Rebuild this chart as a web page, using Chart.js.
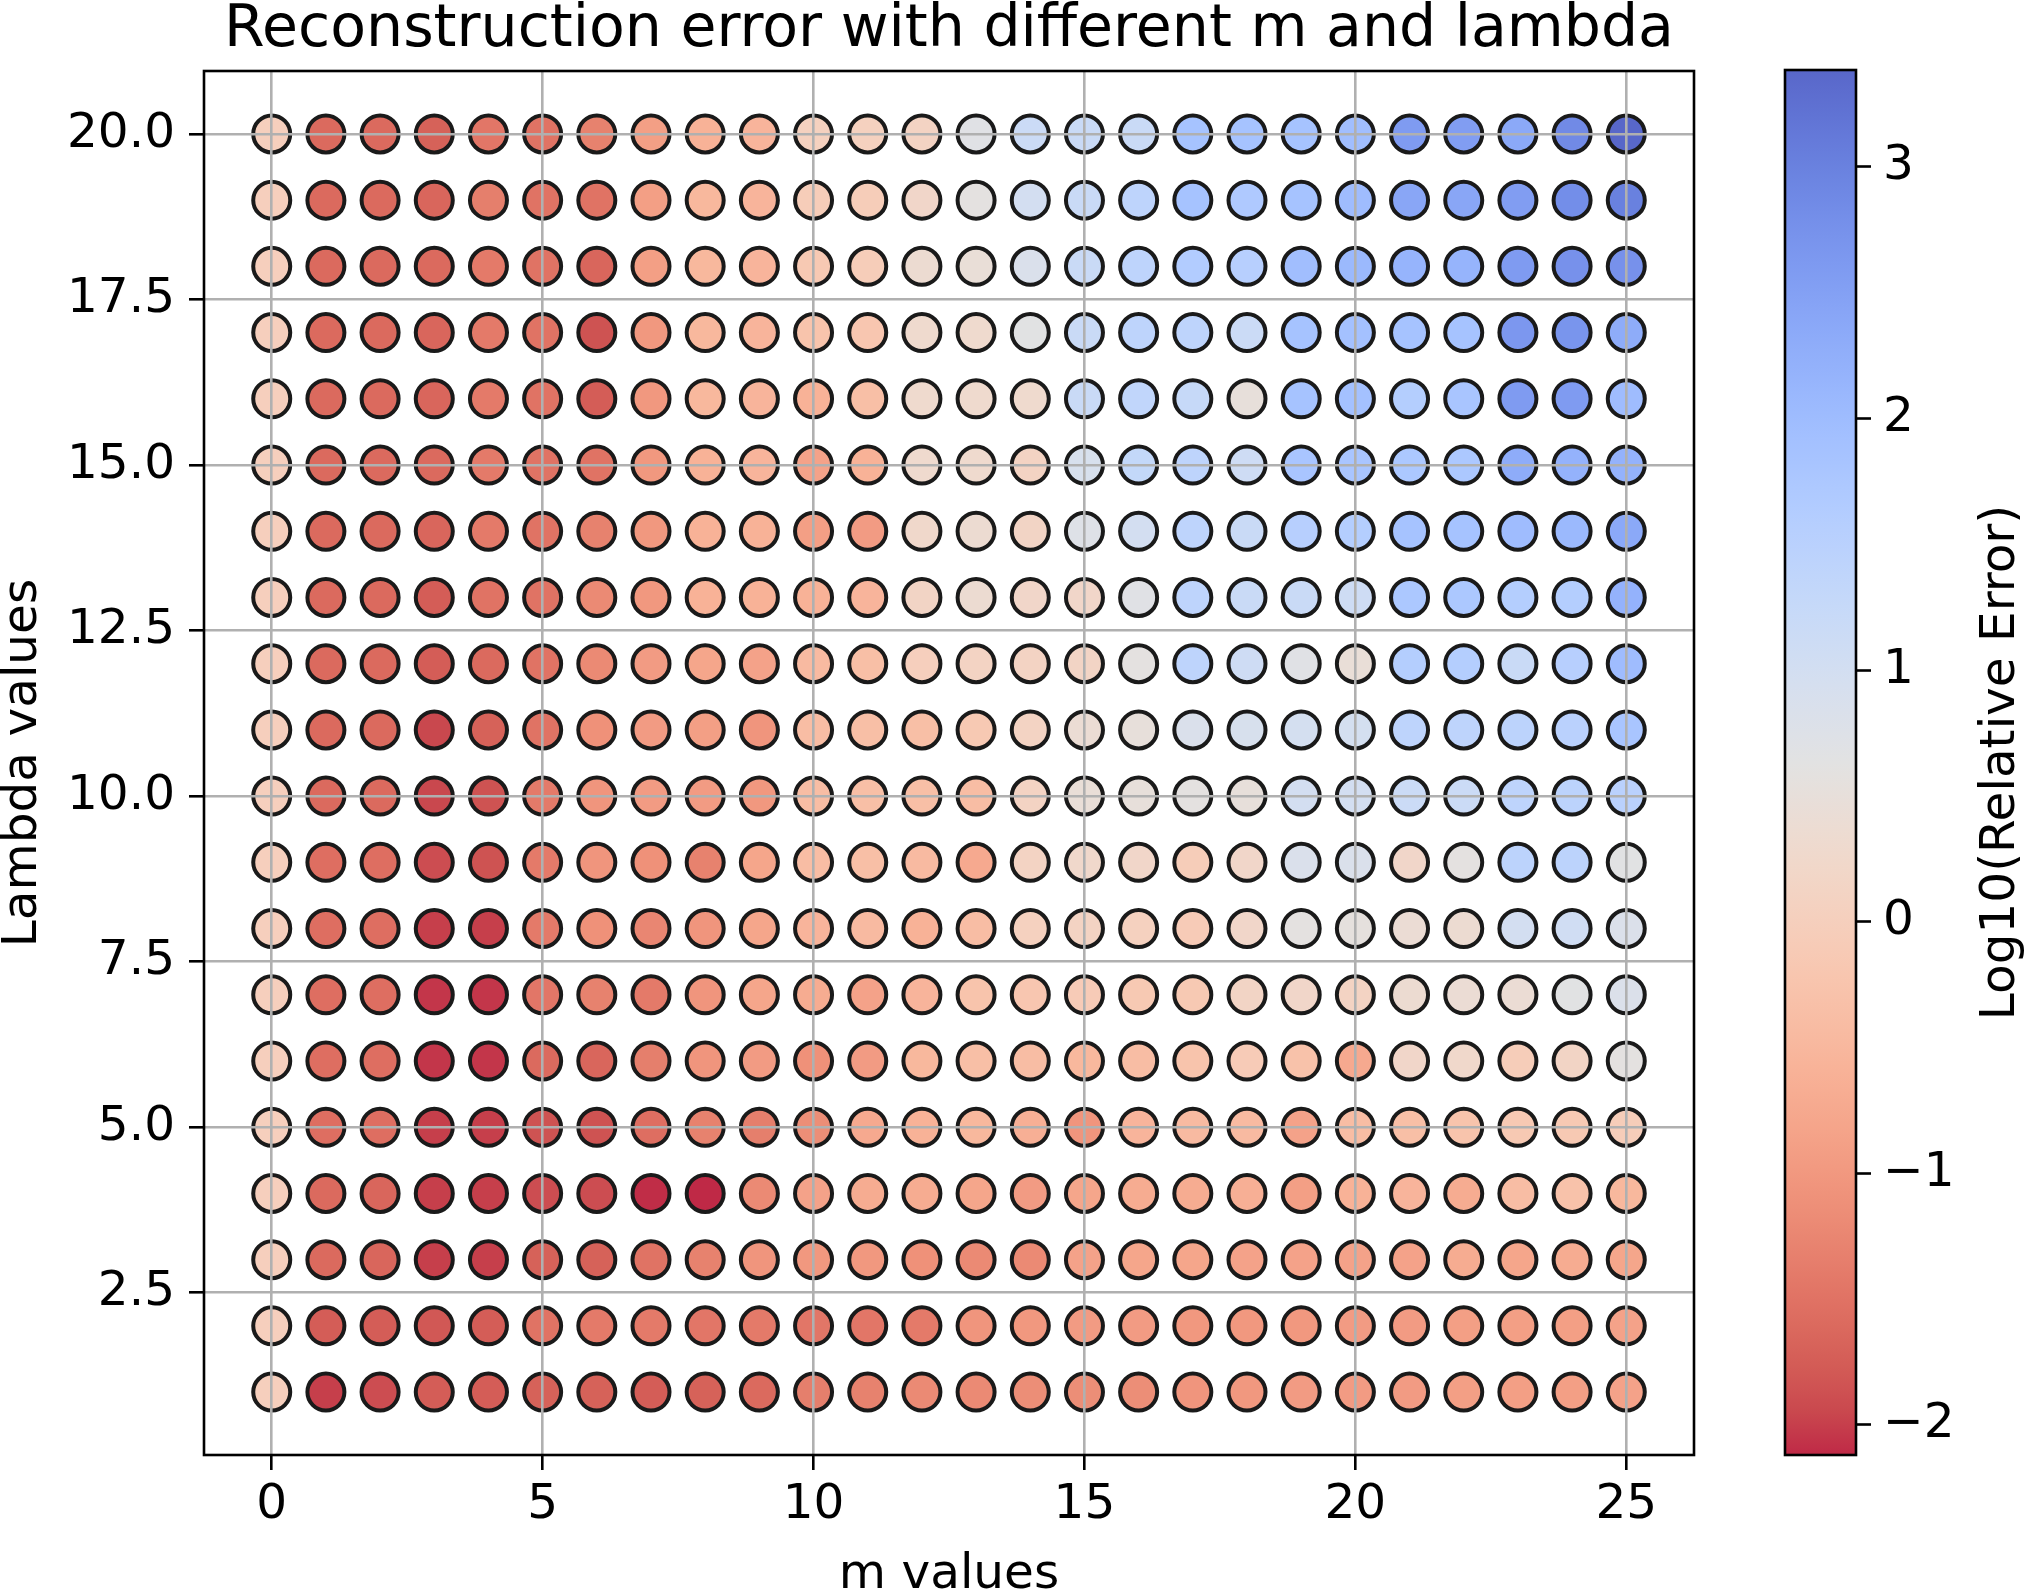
<!DOCTYPE html>
<html>
<head>
<meta charset="utf-8">
<script src="https://cdn.jsdelivr.net/npm/chart.js@4.4.1/dist/chart.umd.min.js"></script>
<style>
  body { margin: 0; background: #fff; }
  #wrap { position: relative; width: 2024px; height: 1590px; }
  canvas { position: absolute; top: 0; }
</style>
</head>
<body>
<div id="wrap">
  <canvas id="myChart" width="2024" height="1590" style="left:0"></canvas>
  <canvas id="barraColor" width="264" height="1590" style="left:1760px"></canvas>
</div>
<script>
// m values (x) and lambda values (y)
const mValues = [0,1,2,3,4,5,6,7,8,9,10,11,12,13,14,15,16,17,18,19,20,21,22,23,24,25];
const lambdaValues = [1,2,3,4,5,6,7,8,9,10,11,12,13,14,15,16,17,18,19,20];
const xTicks = [0,5,10,15,20,25];
const yTicks = [2.5,5,7.5,10,12.5,15,17.5,20];
const cbTicks = [-2,-1,0,1,2,3];

// log10(relative error), one row per lambda (1 .. 20), one column per m (0 .. 25)
const err_l1  = [0.0,-2.0,-1.9,-1.75,-1.75,-1.7,-1.7,-1.75,-1.7,-1.6,-1.35,-1.3,-1.2,-1.2,-1.15,-1.15,-1.15,-1.05,-1.0,-0.95,-0.95,-0.95,-0.9,-0.9,-0.9,-0.85];
const err_l2  = [0.0,-1.75,-1.75,-1.8,-1.75,-1.5,-1.4,-1.4,-1.45,-1.4,-1.45,-1.45,-1.4,-1.05,-1.0,-0.95,-0.95,-1.0,-1.0,-1.0,-0.95,-0.95,-0.9,-0.9,-0.9,-0.85];
const err_l3  = [0.0,-1.6,-1.65,-2.0,-2.0,-1.7,-1.7,-1.5,-1.3,-1.05,-1.0,-1.0,-1.1,-1.2,-1.2,-0.85,-0.8,-0.8,-0.85,-0.85,-0.85,-0.85,-0.7,-0.8,-0.7,-0.8];
const err_l4  = [0.0,-1.6,-1.65,-2.0,-2.0,-1.9,-1.9,-2.1,-2.12,-1.2,-0.85,-0.7,-0.7,-0.8,-0.95,-0.8,-0.7,-0.7,-0.65,-0.9,-0.6,-0.55,-0.7,-0.4,-0.3,-0.5];
const err_l5  = [0.0,-1.55,-1.55,-2.0,-2.0,-1.85,-1.85,-1.55,-1.3,-1.35,-1.15,-0.75,-0.6,-0.5,-0.65,-1.05,-0.55,-0.45,-0.45,-0.85,-0.4,-0.35,-0.25,-0.15,-0.15,-0.05];
const err_l6  = [0.0,-1.55,-1.55,-2.05,-2.05,-1.6,-1.65,-1.35,-1.05,-0.95,-1.1,-0.95,-0.5,-0.35,-0.4,-0.5,-0.4,-0.25,-0.1,-0.3,-0.75,0.2,0.25,-0.05,0.15,0.6];
const err_l7  = [0.0,-1.55,-1.55,-2.05,-2.05,-1.45,-1.3,-1.4,-1.05,-0.8,-0.7,-0.85,-0.55,-0.25,-0.2,-0.1,-0.15,-0.15,0.15,0.2,0.1,0.35,0.4,0.4,0.65,0.8];
const err_l8  = [0.0,-1.55,-1.55,-2.0,-2.0,-1.4,-1.1,-1.25,-1.05,-0.8,-0.55,-0.45,-0.6,-0.4,0.05,0.1,0.05,-0.1,0.2,0.6,0.55,0.4,0.35,1.0,1.05,0.8];
const err_l9  = [0.0,-1.55,-1.55,-1.9,-1.85,-1.4,-1.05,-1.1,-1.3,-0.8,-0.4,-0.35,-0.45,-0.75,0.1,0.25,0.2,-0.05,0.2,0.85,0.85,0.2,0.6,1.45,1.45,0.65];
const err_l10 = [0.0,-1.6,-1.6,-1.95,-1.85,-1.4,-1.05,-0.95,-0.95,-1.0,-0.4,-0.35,-0.35,-0.4,0.1,0.45,0.5,0.6,0.5,1.0,1.0,1.15,1.15,1.4,1.45,1.5];
const err_l11 = [0.0,-1.6,-1.6,-1.95,-1.7,-1.5,-1.1,-0.95,-0.9,-1.05,-0.4,-0.35,-0.35,-0.15,0.1,0.4,0.5,0.85,0.9,0.95,0.95,1.4,1.4,1.45,1.5,1.8];
const err_l12 = [0.0,-1.6,-1.6,-1.75,-1.6,-1.5,-1.2,-0.95,-0.8,-0.85,-0.45,-0.35,0.0,0.1,0.1,0.15,0.6,1.4,1.1,0.7,0.45,1.6,1.6,1.2,1.55,2.0];
const err_l13 = [0.0,-1.6,-1.6,-1.75,-1.5,-1.5,-1.2,-1.0,-0.6,-0.6,-0.6,-0.55,0.15,0.35,0.2,0.2,0.7,1.4,1.2,1.2,1.1,1.75,1.75,1.6,1.6,2.2];
const err_l14 = [0.0,-1.6,-1.6,-1.65,-1.4,-1.5,-1.3,-1.0,-0.6,-0.6,-0.9,-0.95,0.25,0.35,0.15,0.75,1.0,1.4,1.2,1.55,1.6,1.85,1.85,2.0,2.05,2.35];
const err_l15 = [0.0,-1.6,-1.6,-1.6,-1.4,-1.5,-1.5,-1.0,-0.6,-0.55,-0.85,-0.6,0.3,0.3,0.1,0.9,1.3,1.4,1.1,1.8,1.8,1.75,1.75,2.3,2.2,2.2];
const err_l16 = [0.0,-1.6,-1.6,-1.65,-1.4,-1.5,-1.75,-1.0,-0.5,-0.55,-0.6,-0.35,0.3,0.3,0.3,1.2,1.35,1.25,0.5,1.85,1.9,1.6,1.8,2.6,2.6,2.0];
const err_l17 = [0.0,-1.6,-1.6,-1.65,-1.4,-1.5,-1.85,-1.0,-0.5,-0.55,-0.25,-0.2,0.3,0.3,0.65,1.2,1.4,1.4,1.15,1.85,1.9,1.85,1.85,2.65,2.7,2.3];
const err_l18 = [0.0,-1.6,-1.6,-1.6,-1.4,-1.5,-1.65,-0.9,-0.5,-0.55,-0.15,-0.05,0.35,0.45,0.85,1.2,1.4,1.65,1.55,1.95,2.05,2.15,2.15,2.6,2.75,2.75];
const err_l19 = [0.0,-1.6,-1.6,-1.65,-1.35,-1.5,-1.5,-0.9,-0.5,-0.55,-0.05,-0.05,0.2,0.6,1.0,1.2,1.4,1.85,1.7,1.85,2.0,2.4,2.4,2.55,2.8,3.0];
const err_l20 = [0.0,-1.6,-1.6,-1.7,-1.45,-1.5,-1.3,-0.9,-0.6,-0.55,0.05,0.05,0.1,0.7,1.15,1.2,1.2,1.85,1.85,1.85,1.95,2.6,2.55,2.35,2.85,3.385];

const errorRows = [err_l1,err_l2,err_l3,err_l4,err_l5,err_l6,err_l7,err_l8,err_l9,err_l10,
                   err_l11,err_l12,err_l13,err_l14,err_l15,err_l16,err_l17,err_l18,err_l19,err_l20];

// coolwarm stops (Moreland), used reversed: low = red, high = blue
const coolwarm = [
  [59,76,192],[68,90,204],[77,104,215],[87,117,225],[98,130,234],[108,142,241],[119,154,247],[130,165,251],
  [141,176,254],[152,185,255],[163,194,255],[174,201,253],[184,208,249],[194,213,244],[204,217,238],[213,219,230],
  [221,221,221],[229,216,209],[236,211,197],[241,204,185],[245,196,173],[247,187,160],[247,177,148],[247,166,135],
  [244,154,123],[241,141,111],[236,127,99],[229,112,88],[222,96,77],[213,80,66],[203,62,56],[192,40,47],[180,4,38]
];
const ALPHA = 0.85;

var vMin = Math.min(...errorRows.flat());
var vMax = Math.max(...errorRows.flat());

function mapaColor(t){
  // t en [0,1] sobre coolwarm
  t = Math.max(0, Math.min(1, t));
  const pos = t * (coolwarm.length - 1);
  const i = Math.min(Math.floor(pos), coolwarm.length - 2);
  const f = pos - i;
  const a = coolwarm[i], b = coolwarm[i+1];
  return [0,1,2].map(k => Math.round(a[k] + (b[k]-a[k])*f));
}
function colorDeValor(v){
  const c = mapaColor(1 - (v - vMin)/(vMax - vMin));
  return `rgba(${c[0]},${c[1]},${c[2]},${ALPHA})`;
}

var puntos = [];
lambdaValues.forEach((lam, i) => {
  mValues.forEach((m, j) => {
    puntos.push({x: m, y: lam, v: errorRows[i][j]});
  });
});

const FUENTE = "'DejaVu Sans', sans-serif";
const TICK_PX = 48.5;

// marco negro + titulo
const marco = {
  id: 'marco',
  afterDraw(chart, args, opts){
    const {ctx, chartArea: a} = chart;
    ctx.save();
    ctx.strokeStyle = '#000';
    ctx.lineWidth = 2.6;
    ctx.strokeRect(a.left, a.top, a.right - a.left, a.bottom - a.top);
    if (opts.titulo){
      ctx.fillStyle = '#000';
      ctx.font = `58.5px ${FUENTE}`;
      ctx.textAlign = 'center';
      ctx.textBaseline = 'alphabetic';
      ctx.fillText(opts.titulo, (a.left + a.right)/2, 46);
    }
    if (opts.etiqueta){
      ctx.fillStyle = '#000';
      ctx.font = `${TICK_PX}px ${FUENTE}`;
      ctx.translate(opts.etiquetaX, (a.top + a.bottom)/2);
      ctx.rotate(-Math.PI/2);
      ctx.textAlign = 'center';
      ctx.textBaseline = 'alphabetic';
      ctx.fillText(opts.etiqueta, 0, 0);
    }
    ctx.restore();
  }
};

const config = {
  type: 'scatter',
  data: {
    datasets: [{
      label: 'error',
      data: puntos,
      pointRadius: 18.5,
      pointHoverRadius: 18.5,
      pointBorderWidth: 4,
      pointBorderColor: '#1a1a1a',
      pointBackgroundColor: ctx => colorDeValor(ctx.raw.v)
    }]
  },
  options: {
    responsive: false,
    animation: false,
    events: [],
    layout: { padding: { top: 71, left: 0, right: 330, bottom: 0 } },
    plugins: {
      legend: { display: false },
      tooltip: { enabled: false },
      marco: { titulo: 'Reconstruction error with different m and lambda' }
    },
    scales: {
      x: {
        type: 'linear',
        min: -1.25,
        max: 26.25,
        afterBuildTicks: axis => { axis.ticks = xTicks.map(v => ({value: v})); },
        afterFit: axis => { axis.height = 135; },
        border: { display: false },
        grid: { color: '#b0b0b0', lineWidth: 2.6, tickColor: '#000', tickWidth: 2.6, tickLength: 15, z: 1 },
        ticks: { color: '#000', font: { family: FUENTE, size: TICK_PX }, padding: 6, maxRotation: 0 },
        title: { display: true, text: 'm values', color: '#000', font: { family: FUENTE, size: TICK_PX }, padding: { top: 0, bottom: -15 } }
      },
      y: {
        type: 'linear',
        min: 0.05,
        max: 20.95,
        afterBuildTicks: axis => { axis.ticks = yTicks.map(v => ({value: v})); },
        afterFit: axis => { axis.width = 204; },
        border: { display: false },
        grid: { color: '#b0b0b0', lineWidth: 2.6, tickColor: '#000', tickWidth: 2.6, tickLength: 15, z: 1 },
        ticks: { color: '#000', font: { family: FUENTE, size: TICK_PX }, padding: 14, callback: v => v.toFixed(1) },
        title: { display: true, text: 'Lambda values', color: '#000', font: { family: FUENTE, size: TICK_PX }, padding: { top: -6, bottom: 0 } }
      }
    }
  },
  plugins: [marco]
};

const myChart = new Chart(document.getElementById('myChart'), config);

// barra de color (colorbar)
function gradiente(ctx){
  const chart = ctx.chart;
  const a = chart.chartArea;
  if (!a) return null;
  const g = chart.ctx.createLinearGradient(0, a.bottom, 0, a.top);
  const n = 64;
  for (let k = 0; k <= n; k++){
    const c = mapaColor(1 - k/n);
    g.addColorStop(k/n, `rgba(${c[0]},${c[1]},${c[2]},${ALPHA})`);
  }
  return g;
}

const config_2 = {
  type: 'bar',
  data: {
    labels: [''],
    datasets: [{
      data: [[vMin, vMax]],
      backgroundColor: gradiente,
      borderWidth: 0,
      barPercentage: 1,
      categoryPercentage: 1
    }]
  },
  options: {
    responsive: false,
    animation: false,
    events: [],
    layout: { padding: { top: 70, left: 25, right: 0, bottom: 135 } },
    plugins: {
      legend: { display: false },
      tooltip: { enabled: false },
      marco: { etiqueta: 'Log10(Relative Error)', etiquetaX: 254 }
    },
    scales: {
      x: { display: false },
      y: {
        position: 'right',
        min: vMin,
        max: vMax,
        afterBuildTicks: axis => { axis.ticks = cbTicks.map(v => ({value: v})); },
        afterFit: axis => { axis.width = 168; },
        border: { display: false },
        grid: { drawOnChartArea: false, tickColor: '#000', tickWidth: 2.6, tickLength: 15 },
        ticks: { color: '#000', font: { family: FUENTE, size: TICK_PX }, padding: 12,
                 callback: v => v < 0 ? '\u2212' + Math.abs(v) : String(v) }
      }
    }
  },
  plugins: [marco]
};

const myChart_2 = new Chart(document.getElementById('barraColor'), config_2);
</script>
</body>
</html>
